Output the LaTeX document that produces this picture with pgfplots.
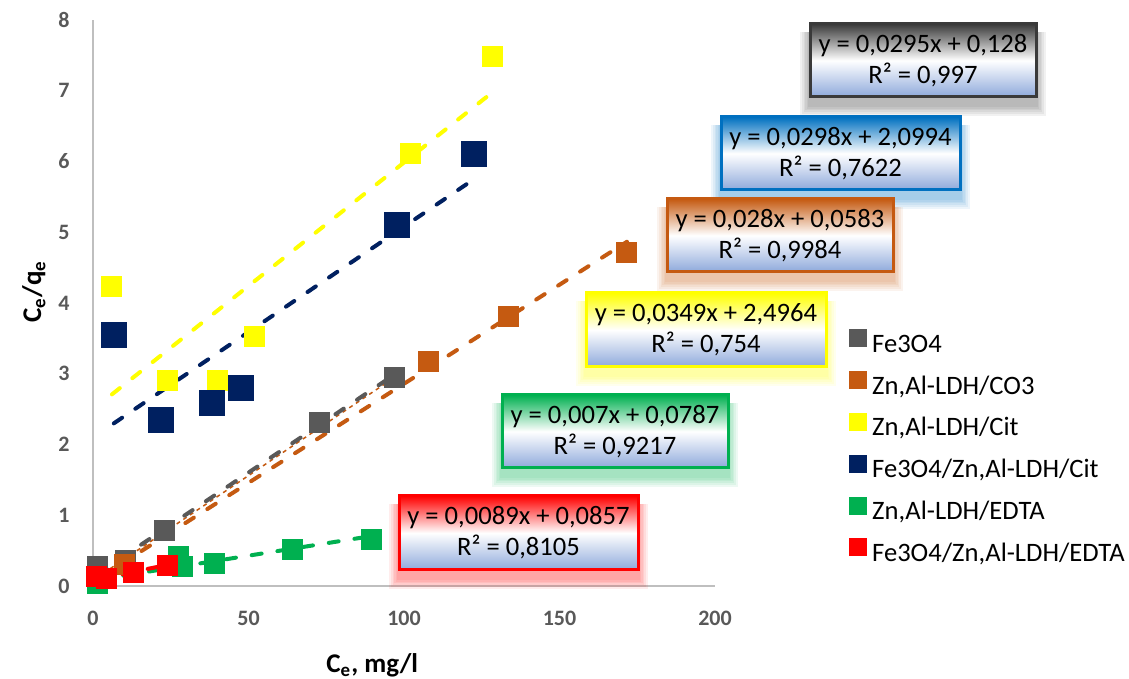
\documentclass[border=0pt]{standalone}
\usepackage{fontspec}
\setmainfont{Carlito}
\usepackage{pgfplots}
\pgfplotsset{compat=1.18}
\definecolor{cgray}{HTML}{595959}
\definecolor{corange}{HTML}{C55A11}
\definecolor{cyellow}{HTML}{FFFF00}
\definecolor{cnavy}{HTML}{002060}
\definecolor{cgreen}{HTML}{00B050}
\definecolor{cred}{HTML}{FF0000}
\definecolor{cblue}{HTML}{0070C0}
\definecolor{cblack}{HTML}{3A3A3A}
\definecolor{boxblue}{HTML}{8EA9DB}
\definecolor{axgray}{HTML}{BFBFBF}
\definecolor{tickgray}{HTML}{595959}

\newcommand{\eqbox}[8]{%
  \foreach \k in {1,...,6}{%
    \fill[#5,opacity=0.07] ({#1bp-\k*0.8bp},{#2bp-4bp-\k*0.9bp}) rectangle ({#3bp+\k*0.8bp},{#4bp-4bp});}
  \shade[top color=#6, bottom color=boxblue, middle color=white] (#1bp,#2bp) rectangle (#3bp,#4bp);
  \draw[#5, line width=1.5bp] (#1bp,#2bp) rectangle (#3bp,#4bp);
  \node[align=center, inner sep=0pt, font=\fontsize{13.3bp}{15.5bp}\selectfont, text=black]
    at ({(#1bp+#3bp)/2},{(#2bp+#4bp)/2}) {#7\\#8};
}

\begin{document}
\begin{tikzpicture}
\useasboundingbox (0,0) rectangle (564.5bp,339.5bp);
\begin{axis}[
  scale only axis, width=311bp, height=283bp,
  at={(46.5bp,46.5bp)}, anchor=origin,
  xmin=0, xmax=200, ymin=0, ymax=8,
  xtick={0,50,100,150,200}, ytick={0,1,...,8},
  axis x line*=bottom, axis y line*=left,
  axis line style={draw=axgray, line width=1bp, -},
  major tick length=0pt,
  clip=false,
  /pgf/number format/assume math mode=true,
  tick label style={font=\bfseries\fontsize{11bp}{13bp}\selectfont, text=tickgray, inner sep=0pt},
  xticklabel style={anchor=north, yshift=-12.5bp},
  yticklabel style={anchor=east, xshift=-11.5bp},
  xlabel={C\textsubscript{e}, mg/l},
  ylabel={C\textsubscript{e}/q\textsubscript{e}},
  label style={font=\bfseries\fontsize{13.5bp}{15bp}\selectfont, text=black},
  xlabel style={at={(axis description cs:0.449,-0.152)}, anchor=base},
  ylabel style={at={(axis description cs:-0.0836,0.52)}, anchor=base, rotate=0},
  legend style={draw=none, fill=none, at={(1.2154,0.4541)}, anchor=north west,
    inner sep=0pt, row sep=6.45bp, font=\fontsize{13.3bp}{15bp}\selectfont,
    nodes={inner sep=0pt, text height=9bp, text depth=3bp},
    /tikz/every odd column/.append style={column sep=2.5bp}},
  legend cell align=left,
  legend image code/.code={\fill[#1] (0bp,-0.25bp) rectangle (8.5bp,8.25bp);},
]
% scatter series
\addplot[only marks, color=cgray, mark=square*, mark size=5bp, mark options={fill=cgray, draw=cgray, line width=0pt}]
  coordinates {(1.6,0.27) (10.5,0.36) (23.1,0.79) (72.9,2.31) (97,2.94)};
\addlegendentry{Fe3O4}
\addplot[only marks, color=corange, mark=square*, mark size=5bp, mark options={fill=corange, draw=corange, line width=0pt}]
  coordinates {(1.5,0.10) (10.2,0.30) (107.9,3.17) (133.5,3.81) (171.7,4.72)};
\addlegendentry{Zn,Al-LDH/CO3}
\addplot[only marks, color=cyellow, mark=square*, mark size=5bp, mark options={fill=cyellow, draw=cyellow, line width=0pt}]
  coordinates {(6.1,4.23) (24.1,2.90) (40.1,2.90) (52.0,3.53) (102,6.11) (128.4,7.49)};
\addlegendentry{Zn,Al-LDH/Cit}
\addplot[only marks, color=cnavy, mark=square*, mark size=6.25bp, mark options={fill=cnavy, draw=cnavy, line width=0pt}]
  coordinates {(6.7,3.55) (21.8,2.35) (38.2,2.59) (47.5,2.80) (97.6,5.10) (122.6,6.11)};
\addlegendentry{Fe3O4/Zn,Al-LDH/Cit}
\addplot[only marks, color=cgreen, mark=square*, mark size=5bp, mark options={fill=cgreen, draw=cgreen, line width=0pt}]
  coordinates {(1.5,0.03) (27.6,0.41) (28.9,0.27) (39.2,0.32) (64.2,0.51) (89.6,0.66)};
\addlegendentry{Zn,Al-LDH/EDTA}
\addplot[only marks, color=cred, mark=square*, mark size=5bp, mark options={fill=cred, draw=cred, line width=0pt}]
  coordinates {(1.2,0.13) (4.5,0.11) (12.9,0.19) (23.9,0.29)};
\addlegendentry{Fe3O4/Zn,Al-LDH/EDTA}
% trend lines
\addplot[forget plot, corange, line width=0.75bp, dash pattern=on 2bp off 2bp] coordinates {(1.3,0.12) (97,2.95)};
\addplot[forget plot, cgray, line width=2bp, line cap=round, dash pattern=on 5bp off 8bp] coordinates {(1.6,0.175) (97,2.990)};
\addplot[forget plot, corange, line width=2bp, line cap=round, dash pattern=on 5bp off 8bp] coordinates {(1.5,0.100) (171.7,4.866)};
\addplot[forget plot, cyellow, line width=2bp, line cap=round, dash pattern=on 5bp off 8bp] coordinates {(6.1,2.709) (128.4,6.977)};
\addplot[forget plot, cnavy, line width=2bp, line cap=round, dash pattern=on 5bp off 8bp] coordinates {(6.7,2.299) (122.6,5.753)};
\addplot[forget plot, cgreen, line width=2bp, line cap=round, dash pattern=on 5bp off 8bp] coordinates {(1.5,0.089) (89.6,0.706)};
\addplot[forget plot, cred, line width=2bp, line cap=round, dash pattern=on 5bp off 8bp] coordinates {(1.2,0.096) (23.9,0.298)};
\end{axis}
% equation boxes
\eqbox{405}{291}{518}{327.5}{cblack}{cblack}{y = 0,0295x + 0,128}{R² = 0,997}
\eqbox{360.5}{244.5}{480}{281}{cblue}{cblue}{y = 0,0298x + 2,0994}{R² = 0,7622}
\eqbox{333.5}{203.5}{446.5}{240}{corange}{corange}{y = 0,028x + 0,0583}{R² = 0,9984}
\eqbox{293}{156}{413}{193}{cyellow}{cyellow}{y = 0,0349x + 2,4964}{R² = 0,754}
\eqbox{251}{105.5}{364}{142}{cgreen}{cgreen}{y = 0,007x + 0,0787}{R² = 0,9217}
\eqbox{199.5}{54.5}{319}{91.5}{cred}{cred}{y = 0,0089x + 0,0857}{R² = 0,8105}
\end{tikzpicture}
\end{document}
